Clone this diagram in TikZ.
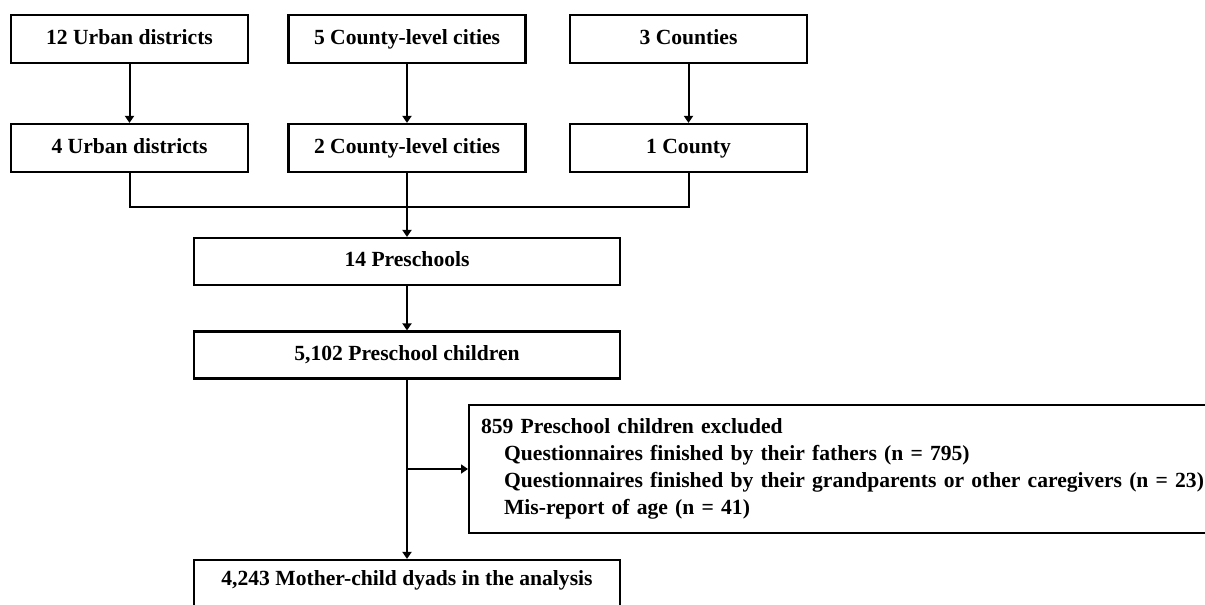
\documentclass[tikz,border=0pt]{standalone}
\usepackage{fontspec}
\setmainfont{Liberation Serif}
\usetikzlibrary{arrows.meta}
\tikzset{
  unit/.style={draw, line width=1.1pt, minimum width=118.5pt, minimum height=24pt,
    inner sep=0pt, font=\fontsize{10.8}{13.5}\selectfont\bfseries,
    text height=7.5pt, text depth=2.5pt},
  wide/.style={unit, minimum width=213pt, minimum height=23.5pt},
  flow/.style={line width=1pt, -{Triangle[width=4.5pt,length=3.5pt]}},
}
\begin{document}
\begin{tikzpicture}[x=0.5pt,y=-0.5pt]
  \useasboundingbox (0,0) rectangle (1205,605);
  \clip (0,0) rectangle (1205,605);
  % regions in the city
  \node[unit] (urban)    at (129.5,39) {12 Urban districts};
  \node[unit] (cities)   at (407,39)   {5 County-level cities};
  \node[unit] (counties) at (688.5,39) {3 Counties};
  % regions drawn
  \node[unit] (urbansel)  at (129.5,148) {4 Urban districts};
  \node[unit] (citiessel) at (407,148)   {2 County-level cities};
  \node[unit] (countysel) at (688.5,148) {1 County};
  \draw[flow] (urban.south) -- (urbansel.north);
  \draw[flow] (cities.south) -- (citiessel.north);
  \draw[flow] (counties.south) -- (countysel.north);
  % schools and children
  \node[wide] (schools) at (407,261.5) {14 Preschools};
  \node[wide] (children) at (407,355) {5,102 Preschool children};
  \coordinate (join) at (407,207);
  \draw[line width=1pt] (urbansel.south) |- (join) -| (countysel.south);
  \draw[flow] (citiessel.south) -- (schools.north);
  \draw[flow] (schools.south) -- (children.north);
  % exclusions
  \node[draw, line width=1.1pt, anchor=west, inner xsep=6pt, inner ysep=0pt,
    text width=390pt, minimum height=64pt, align=left,
    font=\fontsize{10.8}{13.5}\selectfont\bfseries] (excluded) at (468,469)
    {859 Preschool children excluded\\
     \hspace*{11.5pt}Questionnaires finished by their fathers (n = 795)\\
     \hspace*{11.5pt}Questionnaires finished by their grandparents or other caregivers (n = 23)\\
     \hspace*{11.5pt}Mis-report of age (n = 41)};
  \node[wide, anchor=base, minimum height=0pt, inner ysep=5pt, text depth=13pt]
    (dyads) at (407,585) {4,243 Mother-child dyads in the analysis};
  \coordinate (branch) at (407,469);
  \draw[flow] (children.south) -- (dyads.north);
  \draw[flow] (branch) -- (excluded.west);
\end{tikzpicture}
\end{document}
